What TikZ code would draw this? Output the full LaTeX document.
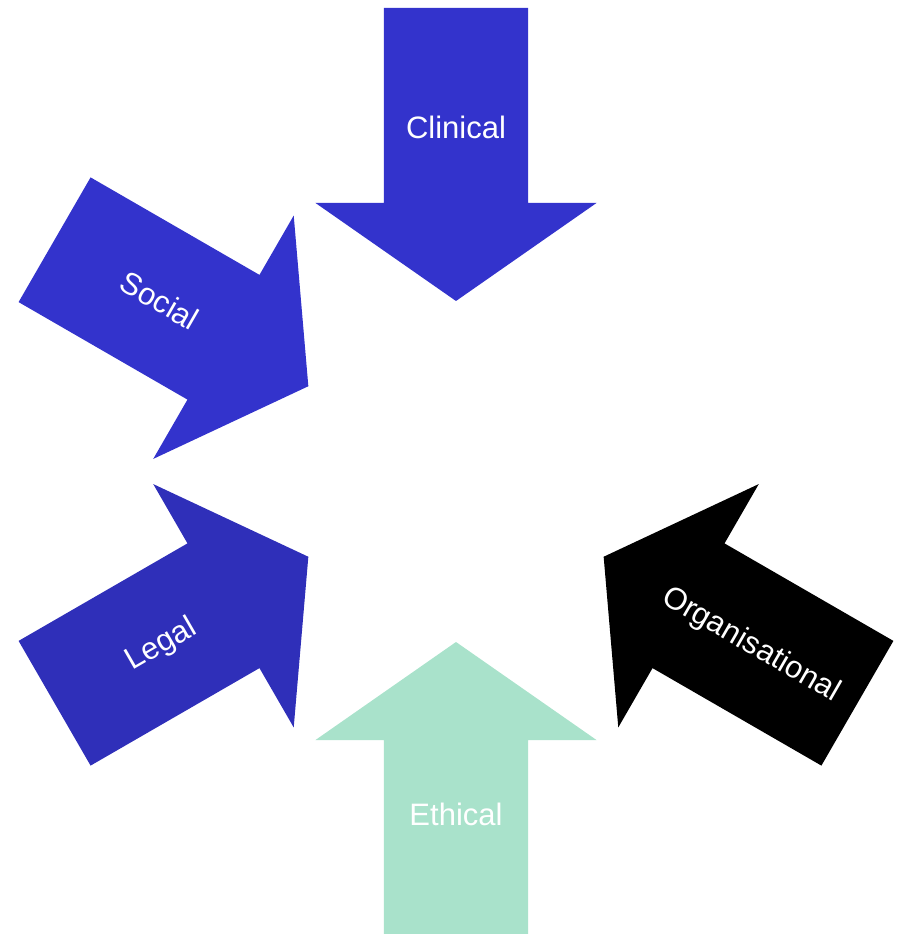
\documentclass[tikz,border=0pt]{standalone}
\usepackage{fontspec}
\setmainfont{Liberation Sans}
\definecolor{cblue}{HTML}{3333CC}
\definecolor{lblue}{HTML}{2F2FB9}
\definecolor{mint}{HTML}{A9E2CB}
\begin{document}
\begin{tikzpicture}[x=1pt,y=1pt,
  arrowshape/.style={draw=none},
  lbl/.style={text=white,font=\fontsize{31}{31}\selectfont,inner sep=0pt,text height=22pt,text depth=0pt,anchor=center}]
\useasboundingbox (-456,-462.5) rectangle (443,471.5);
\def\bigarrow#1#2{%
  \begin{scope}[rotate=#1]
    \fill[#2] (0,170.5) -- (140.5,268.5) -- (72,268.5) -- (72,463.5) -- (-72,463.5) -- (-72,268.5) -- (-140.5,268.5) -- cycle;
  \end{scope}}
\bigarrow{0}{cblue}
\bigarrow{60}{cblue}
\bigarrow{120}{lblue}
\bigarrow{180}{mint}
\bigarrow{240}{black}
\node[lbl] (clinical) at (90:344) {Clinical};
\node[lbl,rotate=-30] (social) at (150:342) {Social};
\node[lbl,rotate=30] (legal) at (210:342) {Legal};
\node[lbl] (ethical) at (270:343) {Ethical};
\node[lbl,rotate=-30] (org) at (330:342) {Organisational};
\end{tikzpicture}
\end{document}
